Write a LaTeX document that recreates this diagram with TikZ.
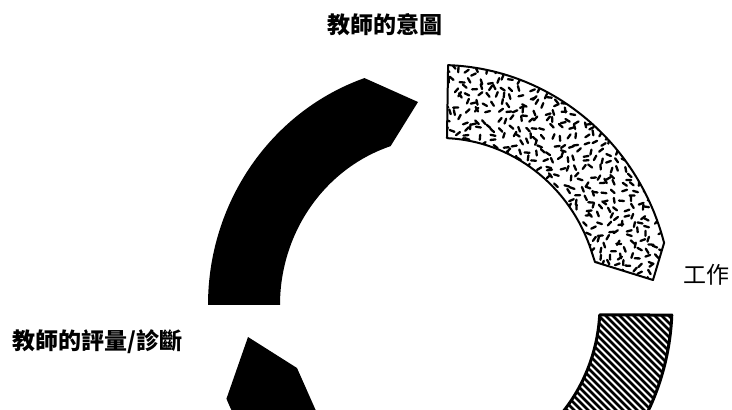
\documentclass[tikz,border=0pt]{standalone}
\usepackage{fontspec}
\newfontfamily\cjk{Noto Sans CJK TC}
\begin{document}
\begin{tikzpicture}[x=1pt, y=1pt,
        every node/.style={font=\cjk\fontsize{23}{23}\selectfont, inner sep=0pt},
        solidpart/.style={fill=black},
        speckpart/.style={draw, line width=2pt, line join=round},
        hatchpart/.style={draw, line width=3pt, line join=round},
        speck/.style={line width=2.3pt, line cap=round},
        hatch/.style={line width=2.8pt}]
        \clip (0,0) rectangle (732,410);
        \coordinate (c) at (440,105);
        % upper left part, solid
        \fill[solidpart] ([shift={(180:232 and 240)}]c) arc[start angle=180, end angle=109, x radius=232, y radius=240]
            -- (418,308) -- ([shift={(108:160 and 167)}]c) arc[start angle=108, end angle=180, x radius=160, y radius=167] -- cycle;
        % upper right part, speckled
        \begin{scope}
            \clip ([shift={(88:232 and 240)}]c) arc[start angle=88, end angle=15, x radius=232, y radius=240]
                -- (653,130) -- (595,148) -- ([shift={(20:160 and 167)}]c) arc[start angle=20, end angle=87.5, x radius=160, y radius=167] -- cycle;
            \pgfmathsetseed{11}
            \foreach \x in {440,448,...,680}
                \foreach \y in {120,128,...,350}
                    \draw[speck] (\x+3*rand,\y+3*rand) -- ++({180*rnd}:5);
        \end{scope}
        \draw[speckpart] ([shift={(88:232 and 240)}]c) arc[start angle=88, end angle=15, x radius=232, y radius=240]
            -- (653,130) -- (595,148) -- ([shift={(20:160 and 167)}]c) arc[start angle=20, end angle=87.5, x radius=160, y radius=167] -- cycle;
        % lower right part, hatched
        \begin{scope}
            \clip ([shift={(-2.4:232 and 240)}]c) arc[start angle=-2.4, end angle=-45, x radius=232, y radius=240]
                -- ([shift={(-45:160 and 167)}]c) arc[start angle=-45, end angle=-3.4, x radius=160, y radius=167] -- cycle;
            \foreach \k in {553,560,...,781}
                \draw[hatch] (\k-120,120) -- (\k+20,-20);
        \end{scope}
        \draw[hatchpart] ([shift={(-2.4:232 and 240)}]c) arc[start angle=-2.4, end angle=-45, x radius=232, y radius=240]
            -- ([shift={(-45:160 and 167)}]c) arc[start angle=-45, end angle=-3.4, x radius=160, y radius=167] -- cycle;
        % lower left part, solid
        \fill[solidpart] (248,73) -- ([shift={(203:232 and 240)}]c) arc[start angle=203, end angle=240, x radius=232, y radius=240]
            -- ([shift={(240:160 and 167)}]c) arc[start angle=240, end angle=219, x radius=160, y radius=167] -- (297,42) -- cycle;
        \node (intent) at (385,385) {\bfseries 教師的意圖};
        \node[anchor=west] (task) at (683,135) {工作};
        \node[anchor=west] (assess) at (12,68) {\bfseries 教師的評量/診斷};
\end{tikzpicture}
\end{document}
